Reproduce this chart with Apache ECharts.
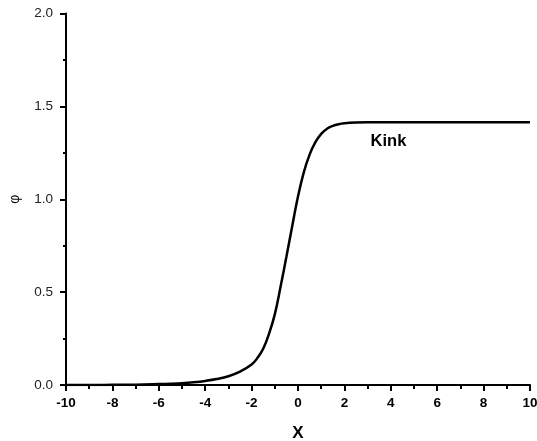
<!DOCTYPE html>
<html>
<head>
<meta charset="utf-8">
<script src="https://cdn.jsdelivr.net/npm/echarts@6/dist/echarts.min.js"></script>
<style>html,body{margin:0;padding:0;background:#fff;}#c{width:537px;height:441px;}</style>
</head>
<body>
<div id="c"></div>
<script>
var xValues = [-10, -9, -8, -7, -6, -5.5, -5, -4.5, -4, -3.5, -3, -2.5, -2, -1.75, -1.5, -1.25, -1, -0.75, -0.5, -0.25, 0, 0.25, 0.5, 0.75, 1, 1.25, 1.5, 1.75, 2, 2.5, 3, 4, 5, 6, 7, 8, 9, 10];
var phiValues = [0, 0, 0.001, 0.002, 0.005, 0.007, 0.01, 0.015, 0.022, 0.032, 0.047, 0.072, 0.11, 0.145, 0.195, 0.275, 0.38, 0.53, 0.69, 0.855, 1.015, 1.145, 1.24, 1.307, 1.352, 1.38, 1.395, 1.404, 1.409, 1.413, 1.414, 1.414, 1.414, 1.414, 1.414, 1.414, 1.414, 1.414];
var curveLabel = 'Kink';
var labelPos = [3.9, 1.31];

var data = xValues.map(function (x, i) { return [x, phiValues[i]]; });
var chart = echarts.init(document.getElementById('c'));
chart.setOption({
  backgroundColor: '#fff',
  animation: false,
  grid: { left: 66, right: 7, top: 13.5, bottom: 56, containLabel: false, outerBoundsMode: 'none' },
  xAxis: {
    type: 'value', min: -10, max: 10, interval: 2,
    name: 'X', nameLocation: 'middle', nameGap: 40,
    nameTextStyle: { fontFamily: 'Liberation Sans', fontSize: 17, fontWeight: 'bold', color: '#000' },
    axisLine: { onZero: false, lineStyle: { color: '#000', width: 2 } },
    axisTick: { show: true, length: 6, lineStyle: { color: '#000', width: 2 } },
    minorTick: { show: true, splitNumber: 2, length: 4, lineStyle: { color: '#000', width: 2 } },
    splitLine: { show: false },
    axisLabel: { margin: 11, fontFamily: 'Liberation Sans', fontSize: 13.5, fontWeight: 'bold', color: '#000' }
  },
  yAxis: {
    type: 'value', min: 0, max: 2, interval: 0.5,
    name: 'φ', nameLocation: 'middle', nameGap: 44, nameRotate: 90,
    nameTextStyle: { fontFamily: 'Liberation Sans', fontSize: 14, color: '#000' },
    axisLine: { show: true, onZero: false, lineStyle: { color: '#000', width: 2 } },
    axisTick: { show: true, length: 6, lineStyle: { color: '#000', width: 2 } },
    minorTick: { show: true, splitNumber: 2, length: 3, lineStyle: { color: '#000', width: 2 } },
    splitLine: { show: false },
    axisLabel: { margin: 13, fontFamily: 'Liberation Sans', fontSize: 13.5, color: '#222',
      formatter: function (v) { return v.toFixed(1); } }
  },
  series: [{
    type: 'line', data: data, smooth: 0.4, showSymbol: false,
    lineStyle: { color: '#000', width: 2.5 },
    markPoint: {
      symbolSize: 0,
      data: [{ coord: labelPos, value: curveLabel }],
      label: { show: true, position: 'inside', formatter: curveLabel,
        fontFamily: 'Liberation Sans', fontSize: 16.5, fontWeight: 'bold', color: '#000' }
    }
  }]
});
</script>
</body>
</html>
